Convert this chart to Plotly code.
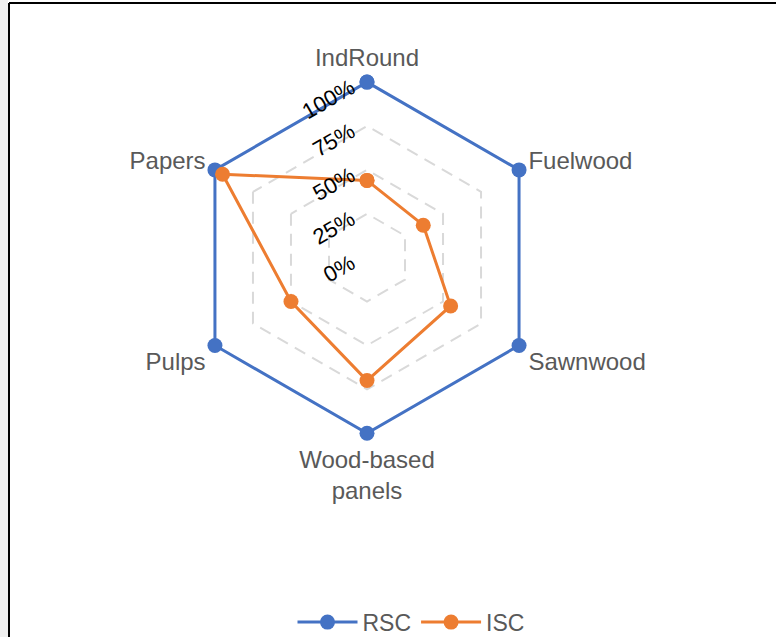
import plotly.graph_objects as go

# Product categories around the radar, clockwise from the top
categories = ["IndRound", "Fuelwood", "Sawnwood", "Wood-based<br>panels", "Pulps", "Papers"]

# Share values (fractions of 1)
rsc_values = [1.00, 1.00, 1.00, 1.00, 1.00, 1.00]
isc_values = [0.44, 0.37, 0.55, 0.70, 0.50, 0.95]

radial_ticks = [0, 0.25, 0.5, 0.75, 1.0]
r_max = 1.02  # a little headroom so the outer series line is not clipped

BLUE = "#4472C4"
ORANGE = "#ED7D31"
FONT = "Liberation Sans"

W, H = 776, 644

def closed(seq):
    return list(seq) + [seq[0]]

fig = go.Figure()
fig.add_trace(go.Scatterpolar(
    r=closed(rsc_values), theta=closed(categories), name="RSC",
    mode="lines+markers", cliponaxis=False,
    line=dict(color=BLUE, width=3),
    marker=dict(size=15, color=BLUE),
))
fig.add_trace(go.Scatterpolar(
    r=closed(isc_values), theta=closed(categories), name="ISC",
    mode="lines+markers", cliponaxis=False,
    line=dict(color=ORANGE, width=3),
    marker=dict(size=15, color=ORANGE),
))

# polar area centred near (367, 260) px from top-left
cx, cy, rad = 367, 260.5, 177.5 * r_max
fig.update_layout(
    width=W, height=H,
    margin=dict(l=0, r=0, t=0, b=0),
    paper_bgcolor="white",
    plot_bgcolor="white",
    font=dict(family=FONT, color="#595959", size=24),
    polar=dict(
        domain=dict(x=[(cx - rad) / W, (cx + rad) / W],
                    y=[(H - cy - rad) / H, (H - cy + rad) / H]),
        gridshape="linear",
        bgcolor="white",
        angularaxis=dict(
            rotation=90, direction="clockwise",
            showgrid=False, showline=False,
            ticks="outside", ticklen=2, tickcolor="rgba(0,0,0,0)",
            tickfont=dict(size=24, color="#595959", family=FONT),
        ),
        radialaxis=dict(
            range=[0, r_max], tickvals=radial_ticks, tickformat=".0%",
            angle=90, tickangle=60, side="counterclockwise",
            showline=False, ticks="",
            gridcolor="#d9d9d9", griddash="12px,8px", gridwidth=2,
            tickfont=dict(size=22, color="#000000", family=FONT),
        ),
    ),
    legend=dict(
        orientation="h", x=411 / W, xanchor="center", y=(H - 629) / H, yanchor="middle",
        font=dict(size=23, color="#595959", family=FONT),
        itemwidth=60,
    ),
    shapes=[
        # grey strip along the left edge and the black frame
        dict(type="rect", xref="paper", yref="paper", x0=0, x1=8 / W, y0=0, y1=1,
             fillcolor="#efefef", line=dict(width=0), layer="below"),
        dict(type="line", xref="paper", yref="paper", x0=9 / W, x1=1,
             y0=(H - 3) / H, y1=(H - 3) / H, line=dict(color="black", width=2)),
        dict(type="line", xref="paper", yref="paper", x0=9 / W, x1=9 / W,
             y0=0, y1=(H - 3) / H, line=dict(color="black", width=2)),
    ],
)

fig.write_html("out.html")
